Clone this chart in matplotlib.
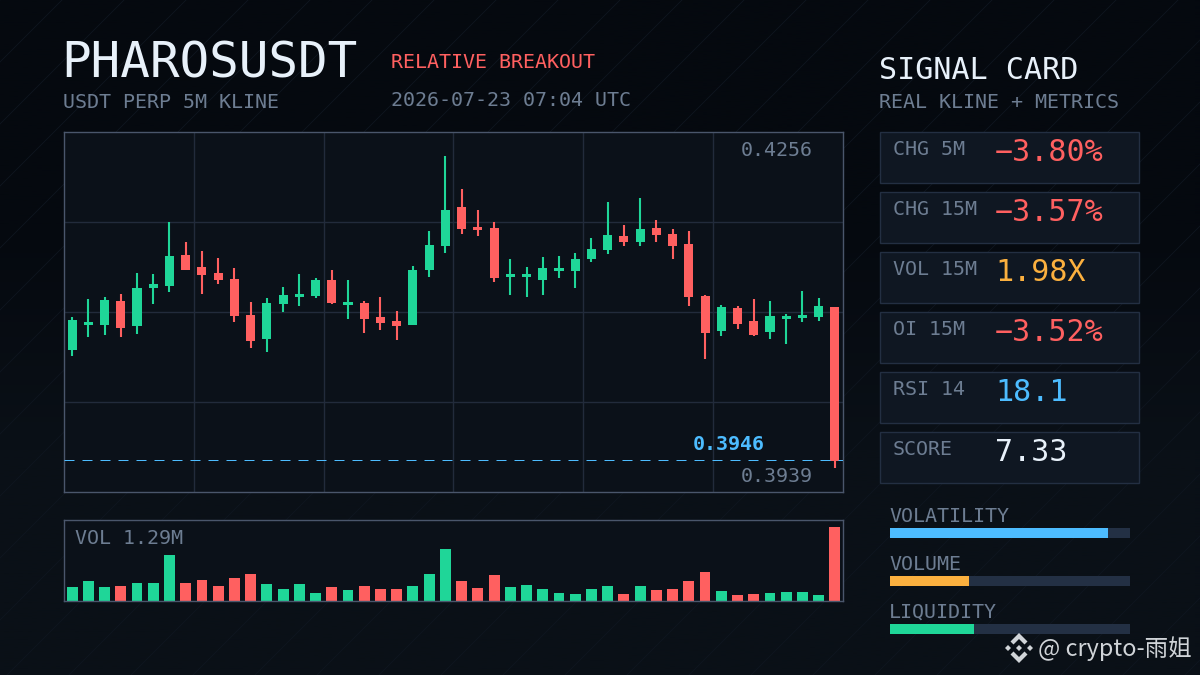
import matplotlib
matplotlib.use("Agg")
import matplotlib.pyplot as plt
import numpy as np
from matplotlib.patches import Rectangle, Polygon

# candle data
opens = [.40589, .40843, .40843, .41087, .40833, .41219, .41239, .41554, .41432, .41371, .41310, .40944,
         .40701, .41056, .41127, .41137, .41300, .41046, .41066, .40924, .40883, .40843, .41402, .41645,
         .42042, .41838, .41828, .41330, .41330, .41300, .41391, .41391, .41513, .41605, .41747, .41686,
         .41828, .41767, .41666, .41137, .40782, .41016, .40883, .40772, .40904, .40914, .40924, .41026]
highs = [.40924, .41107, .41127, .41158, .41371, .41361, .41889, .41686, .41595, .41524, .41422, .41076,
         .41117, .41229, .41361, .41320, .41402, .41300, .41087, .41127, .40985, .41442, .41798, .42560,
         .42225, .42011, .41889, .41513, .41432, .41534, .41544, .41574, .41727, .42092, .41859, .42133,
         .41910, .41818, .41798, .41148, .41046, .41036, .41107, .41087, .40955, .41188, .41117, .41026]
lows = [.40528, .40721, .40741, .40721, .40751, .41056, .41178, .41402, .41158, .41259, .40873, .40609,
        .40568, .40975, .41036, .41117, .41056, .40904, .40762, .40792, .40690, .40843, .41330, .41574,
        .41767, .41747, .41280, .41148, .41127, .41148, .41320, .41219, .41483, .41564, .41645, .41645,
        .41686, .41513, .41036, .40497, .40731, .40802, .40731, .40701, .40650, .40873, .40883, .39390]
closes = [.40894, .40873, .41097, .40812, .41219, .41259, .41544, .41402, .41351, .41300, .40934, .40680,
          .41066, .41148, .41158, .41300, .41066, .41076, .40904, .40863, .40833, .41402, .41656, .42011,
          .41818, .41808, .41320, .41361, .41361, .41422, .41422, .41513, .41615, .41757, .41686, .41818,
          .41757, .41645, .41127, .40762, .41026, .40853, .40741, .40934, .40934, .40944, .41036, .39461]
volumes = [.239, .344, .239, .257, .309, .309, .800, .309, .362, .257, .397, .467,
           .292, .204, .292, .134, .239, .187, .257, .204, .204, .257, .467, .905,
           .344, .222, .449, .239, .274, .204, .134, .117, .204, .257, .117, .257,
           .187, .204, .344, .502, .169, .099, .117, .134, .152, .152, .099, 1.29]

last_price = 0.39470
last_price_label = "0.3946"
price_high_label = "0.4256"
price_low_label = "0.3939"

card_labels = ["CHG 5M", "CHG 15M", "VOL 15M", "OI 15M", "RSI 14", "SCORE"]
card_values = ["-3.80%", "-3.57%", "1.98X", "-3.52%", "18.1", "7.33"]
meter_labels = ["VOLATILITY", "VOLUME", "LIQUIDITY"]
meter_values = [0.908, 0.329, 0.35]

GREEN = "#1fd698"
RED = "#ff6060"
BLUE = "#4dbcff"
ORANGE = "#fbb03f"
WHITE = "#e8f1fa"
MUTED = "#6d7d92"
EDGE = "#4a566b"
GRID = "#222b3b"
PANEL = "#0b1119"
CARD = "#0f1722"
CARD_EDGE = "#232f42"
TRACK = "#233044"
MONO = "DejaVu Sans Mono"

W, H = 1200, 675


def px_axes(fig, x0, y0, x1, y1):
    # axes placed by pixel box, y measured from the top
    return fig.add_axes([x0 / W, 1 - y1 / H, (x1 - x0) / W, (y1 - y0) / H])


def label(ax, x, y, s, px=20, color=MUTED, **kw):
    # px is the font size in pixels, y is the text baseline
    ax.text(x, y, s, fontsize=px * 0.72, color=color, family=MONO, va="baseline", ha="left", **kw)


fig = plt.figure(figsize=(12, 6.75), dpi=100, facecolor="#070b11")

# background: dark gradient with faint diagonal streaks
bg = fig.add_axes([0, 0, 1, 1], zorder=0)
grad = np.linspace(0, 1, 256)[:, None]
bg.imshow(grad, extent=(0, W, H, 0), aspect="auto", cmap=matplotlib.colors.LinearSegmentedColormap.from_list(
    "bg", ["#05090f", "#05090f", "#0a1017", "#0a1017"]), vmin=0, vmax=1, zorder=0)
for x0 in range(0, 2000, 62):
    bg.plot([x0, x0 - 675], [0, 675], color="#0f1620", lw=0.6, zorder=1)
bg.set_xlim(0, W)
bg.set_ylim(H, 0)
bg.axis("off")

# candles
ax = px_axes(fig, 64, 132, 843, 491.5)
ax.set_zorder(2)
ax.set_facecolor(PANEL)
x = np.arange(len(closes))
colors = [GREEN if c >= o else RED for o, c in zip(opens, closes)]
ax.vlines(x, lows, highs, colors=colors, lw=1.5, zorder=3)
ax.bar(x, np.abs(np.array(closes) - np.array(opens)), bottom=np.minimum(opens, closes),
       width=0.56, color=colors, zorder=3)
ax.set_xlim(-0.5, 47.5)
ax.set_ylim(0.39146, 0.42804)
ax.set_xticks(np.arange(7.5, 47, 8))
ax.set_yticks(np.linspace(0.39146, 0.42804, 5)[1:-1])
ax.grid(True, color=GRID, lw=1)
ax.set_axisbelow(True)
ax.tick_params(length=0, labelbottom=False, labelleft=False)
for s in ax.spines.values():
    s.set_color(EDGE)
    s.set_linewidth(1)
ax.axhline(last_price, color=BLUE, lw=0.72, dashes=(10, 8), zorder=4)

# volume bars
vax = px_axes(fig, 64, 520, 843, 601)
vax.set_zorder(2)
vax.set_facecolor(PANEL)
vax.bar(x, volumes, width=0.67, color=colors)
vax.set_xlim(-0.5, 47.5)
vax.set_ylim(0, 1.418)
vax.set_xticks([])
vax.set_yticks([])
for s in vax.spines.values():
    s.set_color(EDGE)
    s.set_linewidth(1)

# overlay for text and cards, in pixels
ov = fig.add_axes([0, 0, 1, 1], zorder=5)
ov.set_xlim(0, W)
ov.set_ylim(H, 0)
ov.axis("off")
ov.patch.set_alpha(0)

label(ov, 61, 77, "PHAROSUSDT", px=49.2, color=WHITE)
label(ov, 391, 68, "RELATIVE BREAKOUT", color=RED)
label(ov, 63, 108, "USDT PERP 5M KLINE")
label(ov, 391, 106, "2026-07-23 07:04 UTC")
label(ov, 879, 79, "SIGNAL CARD", px=30, color=WHITE)
label(ov, 879, 108, "REAL KLINE + METRICS")

label(ov, 741, 156, price_high_label)
label(ov, 741, 482, price_low_label)
label(ov, 693, 450, last_price_label, color=BLUE, fontweight="bold")
label(ov, 75, 544, "VOL 1.29M")

value_colors = [RED, RED, ORANGE, RED, BLUE, WHITE]
for i, (name, val, col) in enumerate(zip(card_labels, card_values, value_colors)):
    top = 132 + 60 * i
    ov.add_patch(Rectangle((880, top), 259, 51, facecolor=CARD, edgecolor=CARD_EDGE, lw=1))
    label(ov, 893, top + 23, name)
    label(ov, 995, top + 29, val.replace("-", "\u2212"), px=30, color=col)

# meters
meter_colors = [BLUE, ORANGE, GREEN]
for i, (name, val, col) in enumerate(zip(meter_labels, meter_values, meter_colors)):
    top = 528 + 48 * i
    m = px_axes(fig, 890, top, 1130, top + 10)
    m.set_zorder(3)
    m.set_facecolor(TRACK)
    m.barh([0], [val], height=1, color=col)
    m.set_xlim(0, 1)
    m.set_ylim(-0.5, 0.5)
    m.set_xticks([])
    m.set_yticks([])
    for s in m.spines.values():
        s.set_visible(False)
    label(ov, 889, top - 6, name)

# watermark with the diamond logo
wm = "#d0d4d8"
cx, cy = 1019, 648
ov.add_patch(Polygon([(cx, cy - 15), (cx + 8.5, cy - 6.5), (cx + 5.5, cy - 3.5), (cx, cy - 9), (cx - 5.5, cy - 3.5), (cx - 8.5, cy - 6.5)], color=wm, lw=0))
ov.add_patch(Polygon([(cx, cy + 15), (cx + 8.5, cy + 6.5), (cx + 5.5, cy + 3.5), (cx, cy + 9), (cx - 5.5, cy + 3.5), (cx - 8.5, cy + 6.5)], color=wm, lw=0))
ov.add_patch(Polygon([(cx, cy - 3), (cx + 3, cy), (cx, cy + 3), (cx - 3, cy)], color=wm, lw=0))
ov.add_patch(Polygon([(cx - 14, cy), (cx - 11, cy - 3), (cx - 8, cy), (cx - 11, cy + 3)], color=wm, lw=0))
ov.add_patch(Polygon([(cx + 14, cy), (cx + 11, cy - 3), (cx + 8, cy), (cx + 11, cy + 3)], color=wm, lw=0))
ov.text(1038.5, 656, "@ crypto-\u96e8\u59d0", fontsize=16.9, color=wm, va="baseline", ha="left",
        family=["Noto Sans CJK SC", "DejaVu Sans"])

fig.savefig("out.png", dpi=100, facecolor=fig.get_facecolor())
